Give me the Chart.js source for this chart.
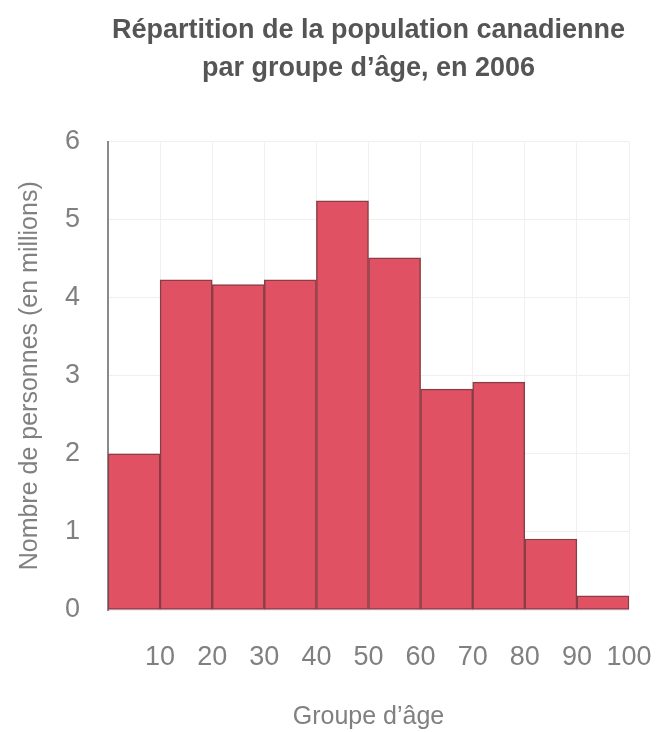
<!DOCTYPE html>
<html lang="fr">
<head>
<meta charset="utf-8">
<title>Répartition de la population canadienne par groupe d’âge, en 2006</title>
<script src="https://cdn.jsdelivr.net/npm/chart.js@4"></script>
<style>
  html, body { margin: 0; padding: 0; background: #ffffff; }
  #wrap { width: 665px; height: 732px; }
</style>
</head>
<body>
<div id="wrap"><canvas id="histo" width="665" height="732"></canvas></div>
<script>
// Age groups (lower bound of each 10-year band) and population in millions
const ageGroupStarts = [0, 10, 20, 30, 40, 50, 60, 70, 80, 90];
const groupWidth = 10;
const populationMillions = [2.0, 4.23, 4.17, 4.23, 5.24, 4.51, 2.83, 2.92, 0.91, 0.18];

// Axis tick labels
const xTickValues = [10, 20, 30, 40, 50, 60, 70, 80, 90, 100];
const yTickValues = [0, 1, 2, 3, 4, 5, 6];

const titleLines = ['Répartition de la population canadienne', 'par groupe d’âge, en 2006'];
const xAxisTitle = 'Groupe d’âge';
const yAxisTitle = 'Nombre de personnes (en millions)';

const points = ageGroupStarts.map((start, i) => ({ x: start + groupWidth / 2, y: populationMillions[i] }));

const textFont = "'Liberation Sans', Arial, sans-serif";
const textGrey = '#808080';

new Chart(document.getElementById('histo'), {
  type: 'bar',
  data: {
    datasets: [{
      data: points,
      backgroundColor: '#e05263',
      borderColor: '#8a3d47',
      borderWidth: 1.5,
      borderSkipped: false,
      barPercentage: 1,
      categoryPercentage: 1
    }]
  },
  options: {
    responsive: false,
    animation: false,
    layout: { padding: { left: 8, right: 36, top: 12, bottom: 0 } },
    plugins: {
      legend: { display: false },
      tooltip: { enabled: false },
      title: {
        display: true,
        fullSize: false,
        text: titleLines,
        color: '#555555',
        font: { family: textFont, size: 27, weight: 'bold', lineHeight: 1.4 },
        padding: { top: 0, bottom: 54 }
      }
    },
    scales: {
      x: {
        type: 'linear',
        min: 0,
        max: 100,
        offset: false,
        afterBuildTicks: (scale) => { scale.ticks = xTickValues.map(v => ({ value: v })); },
        afterFit: (scale) => {
          scale.height = 122;
          // the plot edges are set by the layout padding, not by label overhang
          scale.paddingLeft = 0;
          scale.paddingRight = 0;
        },
        border: { display: false },
        grid: { color: '#f0f0f0', lineWidth: 1, drawTicks: false, offset: false },
        ticks: {
          color: textGrey,
          padding: 31,
          maxRotation: 0,
          autoSkip: false,
          font: { family: textFont, size: 27 }
        },
        title: {
          display: true,
          text: xAxisTitle,
          color: textGrey,
          font: { family: textFont, size: 25, lineHeight: 1.2 },
          padding: { top: 0, bottom: 0 }
        }
      },
      y: {
        min: 0,
        max: 6,
        afterBuildTicks: (scale) => { scale.ticks = yTickValues.map(v => ({ value: v })); },
        afterFit: (scale) => { scale.width = 100; },
        border: { display: true, color: '#8a8a8a', width: 2 },
        grid: { color: '#efefef', lineWidth: 1, drawTicks: false },
        ticks: {
          color: textGrey,
          padding: 28,
          font: { family: textFont, size: 27 }
        },
        title: {
          display: true,
          text: yAxisTitle,
          color: textGrey,
          font: { family: textFont, size: 25, lineHeight: 1.2 },
          padding: { top: 7, bottom: 0 }
        }
      }
    }
  }
});
</script>
</body>
</html>
